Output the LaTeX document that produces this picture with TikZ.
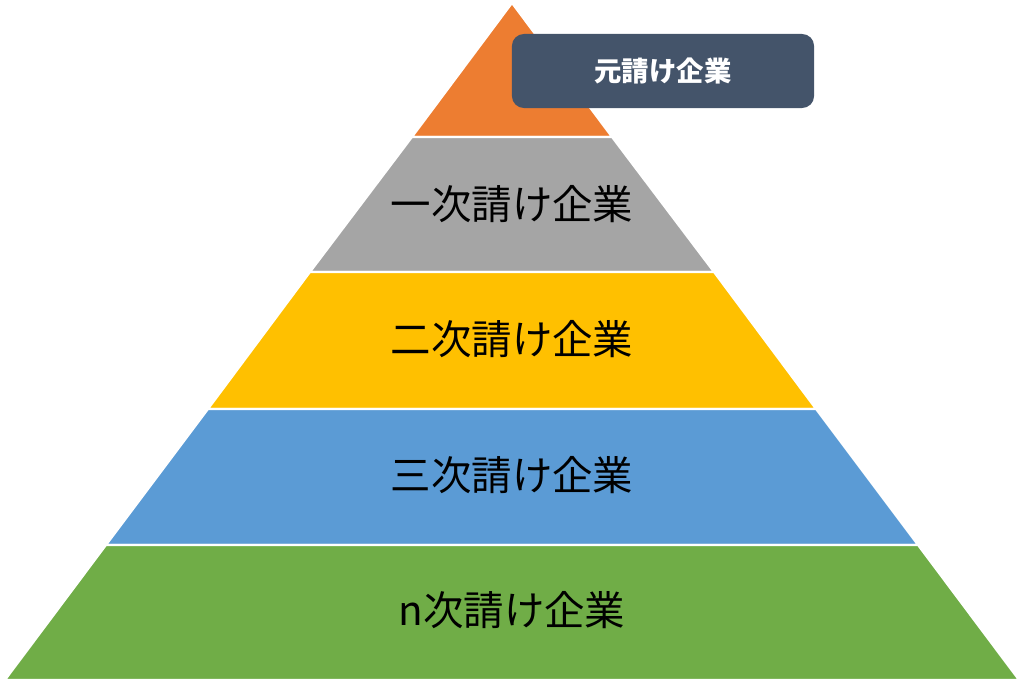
\documentclass[tikz,border=0pt]{standalone}
\usepackage{fontspec}
\newfontfamily\cjk{Noto Sans CJK JP}
\usetikzlibrary{positioning}
\definecolor{lvl0}{HTML}{ED7D31}
\definecolor{lvl1}{HTML}{A5A5A5}
\definecolor{lvl2}{HTML}{FFC000}
\definecolor{lvl3}{HTML}{5B9BD5}
\definecolor{lvl4}{HTML}{70AD47}
\definecolor{tag}{HTML}{44546A}

\begin{document}
\begin{tikzpicture}[
  x = 0.01cm, y = -0.01cm,
  layer/.style = {draw = white, line width = 0.6pt},
  label/.style = {font = \cjk\fontsize{11.5}{13}\selectfont, text = black},
]
  \useasboundingbox (0,0) rectangle (1024,682);

  % pyramid layers
  \filldraw[fill = lvl0,layer] (512,3) -- (612,137) -- (412,137) -- cycle;
  \filldraw[fill = lvl1,layer] (412,137) -- (612,137) -- (714,272) -- (310,272) -- cycle;
  \filldraw[fill = lvl2,layer] (310,272) -- (714,272) -- (816,409) -- (208,409) -- cycle;
  \filldraw[fill = lvl3,layer] (208,409) -- (816,409) -- (918,545) -- (106,545) -- cycle;
  \filldraw[fill = lvl4,layer] (106,545) -- (918,545) -- (1019,680) -- (5,680) -- cycle;

  \node[label] (l1) at (512,204) {一次請け企業};
  \node[label] (l2) at (512,339) {二次請け企業};
  \node[label] (l3) at (512,475) {三次請け企業};
  \node[label] (l4) at (512,610) {n次請け企業};

  % tag
  \node[fill = tag, rounded corners = 0.12cm, minimum width = 3.02cm,
        minimum height = 0.74cm, text = white,
        font = \cjk\bfseries\fontsize{7.8}{9}\selectfont] (top) at (663,71) {元請け企業};
\end{tikzpicture}
\end{document}
